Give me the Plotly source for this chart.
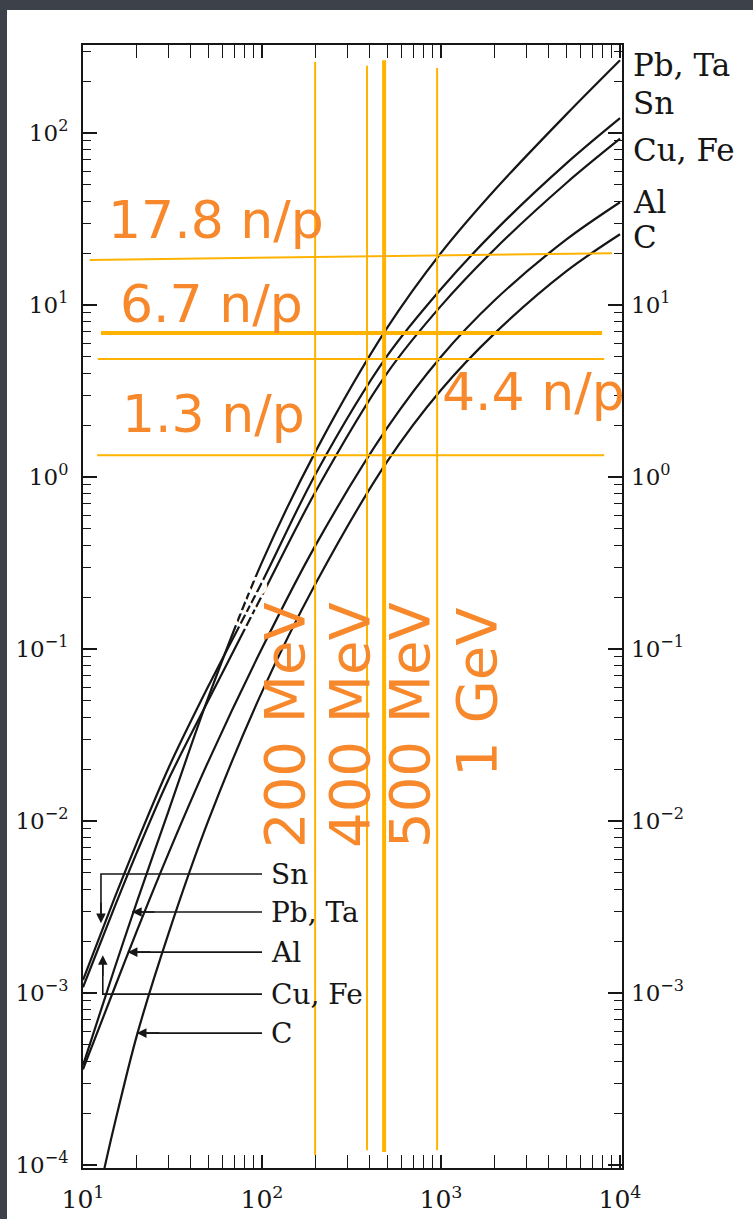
import plotly.graph_objects as go
import math

# ---------------- data ----------------
energy = [10, 15, 20, 30, 50, 100, 200, 500, 1000, 2000, 5000, 10000]
yield_pb_ta = [3.8e-4, 1.39e-3, 3.39e-3, 1.14e-2, 5.2e-2, 0.32, 1.42, 7.36, 20.1, 46.8, 128, 265]
yield_sn = [1.19e-3, 3.56e-3, 7.5e-3, 2.03e-2, 6.05e-2, 0.245, 1.05, 5.06, 12.4, 27.0, 66.4, 122]
yield_cu_fe = [1.08e-3, 3.16e-3, 6.58e-3, 1.74e-2, 5.0e-2, 0.205, 0.83, 4.02, 9.89, 21.2, 51.1, 92.7]
yield_al = [3.6e-4, 1.07e-3, 2.30e-3, 6.47e-3, 2.21e-2, 0.101, 0.405, 1.93, 5.01, 10.7, 24.0, 39.6]
energy_c = [12.8, 13.3, 15, 20, 30, 50, 100, 200, 500, 1000, 2000, 5000, 10000]
yield_c = [8.3e-5, 1e-4, 1.72e-4, 5.68e-4, 2.21e-3, 9.98e-3, 5.64e-2, 0.242, 1.23, 3.21, 6.87, 15.7, 25.8]

# orange annotation lines
hline_labels = ["17.8 n/p", "6.7 n/p", "4.4 n/p", "1.3 n/p"]
hline_e_start = [10.9, 12.6, 12.1, 12.0]
hline_e_end = [9020, 7940, 8160, 8160]
hline_y_start = [18.3, 6.87, 4.86, 1.34]
hline_y_end = [20.0, 6.87, 4.86, 1.34]
vline_labels = ["200 MeV", "400 MeV", "500 MeV", "1 GeV"]
vline_energy = [198, 386, 481, 951]
vline_top = [259, 246, 265, 239]
vline_bottom = [1.14e-4, 1.22e-4, 1.19e-4, 1.22e-4]

x_ticks = [1e1, 1e2, 1e3, 1e4]
x_tick_text = ["10<sup>1</sup>", "10<sup>2</sup>", "10<sup>3</sup>", "10<sup>4</sup>"]
y_ticks = [1e-4, 1e-3, 1e-2, 1e-1, 1e0, 1e1, 1e2]
y_tick_text = ["10<sup>−4</sup>", "10<sup>−3</sup>", "10<sup>−2</sup>", "10<sup>−1</sup>",
               "10<sup>0</sup>", "10<sup>1</sup>", "10<sup>2</sup>"]
y2_ticks = [1e-3, 1e-2, 1e-1, 1e0, 1e1]
y2_tick_text = ["10<sup>−3</sup>", "10<sup>−2</sup>", "10<sup>−1</sup>", "10<sup>0</sup>", "10<sup>1</sup>"]

# ---------------- geometry ----------------
W, H = 753, 1219
ML, MR, MT, MB = 83, 131, 45, 51
PW, PH = W - ML - MR, H - MT - MB
XR = [1.0, 4.011]
YR = [-4.017, 2.512]

def px(x):
    return (x - ML) / PW

def py(y):
    return (H - MB - y) / PH

BLACK = "#161616"
ORANGE_LINE = "#FFB300"
ORANGE_TEXT = "#F7892C"
FRAME = "#3d4149"
SERIF = "DejaVu Serif"
SANS = "DejaVu Sans"

fig = go.Figure()

curve_style = dict(mode="lines", line=dict(color=BLACK, width=2.2, shape="spline", smoothing=0.9),
                   hoverinfo="skip", showlegend=False)
fig.add_trace(go.Scatter(x=energy, y=yield_pb_ta, **curve_style))
fig.add_trace(go.Scatter(x=energy, y=yield_sn, **curve_style))
fig.add_trace(go.Scatter(x=energy, y=yield_cu_fe, **curve_style))
fig.add_trace(go.Scatter(x=energy, y=yield_al, **curve_style))
fig.add_trace(go.Scatter(x=energy_c, y=yield_c, **curve_style))

# leader lines for the lower-left labels
lead = dict(mode="lines", line=dict(color=BLACK, width=1.6), hoverinfo="skip", showlegend=False)
fig.add_trace(go.Scatter(x=[100, 12.6, 12.6], y=[4.92e-3, 4.92e-3, 2.7e-3], **lead))        # Sn
fig.add_trace(go.Scatter(x=[100, 18.8], y=[2.96e-3, 2.96e-3], **lead))                     # Pb, Ta
fig.add_trace(go.Scatter(x=[100, 17.8], y=[1.73e-3, 1.73e-3], **lead))                     # Al
fig.add_trace(go.Scatter(x=[100, 12.9, 12.9], y=[9.86e-4, 9.86e-4, 1.6e-3], **lead))        # Cu, Fe
fig.add_trace(go.Scatter(x=[100, 20.0], y=[5.85e-4, 5.85e-4], **lead))                     # C

# orange lines
for i in range(len(hline_labels)):
    fig.add_trace(go.Scatter(x=[hline_e_start[i], hline_e_end[i]], y=[hline_y_start[i], hline_y_end[i]],
                             mode="lines", line=dict(color=ORANGE_LINE, width=4 if i == 1 else 2),
                             hoverinfo="skip", showlegend=False))
for i in range(len(vline_labels)):
    fig.add_trace(go.Scatter(x=[vline_energy[i], vline_energy[i]], y=[vline_bottom[i], vline_top[i]],
                             mode="lines", line=dict(color=ORANGE_LINE, width=4 if i == 2 else 2),
                             hoverinfo="skip", showlegend=False))

# invisible trace for right axis
fig.add_trace(go.Scatter(x=[100], y=[1], yaxis="y2", mode="markers", marker=dict(opacity=0),
                         hoverinfo="skip", showlegend=False))

ann = []
# white ghost text over curves (drawn first, under the orange labels)
ann.append(dict(text="n/p", x=px(247), y=py(602), xref="paper", yref="paper", textangle=-68,
                xanchor="center", yanchor="middle",
                showarrow=False, font=dict(family=SANS, size=36, color="white")))
# orange labels
orange_h = [("17.8 n/p", 106, 220), ("6.7 n/p", 118, 304), ("1.3 n/p", 120, 414), ("4.4 n/p", 440, 392)]
for lab, lx, ly in orange_h:
    ann.append(dict(text=lab, x=px(lx), y=py(ly), xref="paper", yref="paper", xanchor="left",
                    yanchor="middle", showarrow=False,
                    font=dict(family=SANS, size=52, color=ORANGE_TEXT)))
vpos = [(285, 725), (350, 725), (410, 725), (476, 692)]
for lab, (vx, vy) in zip(vline_labels, vpos):
    ann.append(dict(text=lab, x=px(vx), y=py(vy), xref="paper", yref="paper", textangle=-90,
                    xanchor="center", yanchor="middle", showarrow=False,
                    font=dict(family=SANS, size=56, color=ORANGE_TEXT)))

# right-side element labels
for lab, yy in [("Pb, Ta", 65), ("Sn", 103), ("Cu, Fe", 150), ("Al", 202), ("C", 237)]:
    ann.append(dict(text=lab, x=px(631), y=py(yy), xref="paper", yref="paper", xanchor="left",
                    yanchor="middle", showarrow=False, font=dict(family=SERIF, size=31, color=BLACK)))
# lower-left element labels
for lab, yy in [("Sn", 874), ("Pb, Ta", 912), ("Al", 952), ("Cu, Fe", 994), ("C", 1033)]:
    ann.append(dict(text=lab, x=px(269), y=py(yy), xref="paper", yref="paper", xanchor="left",
                    yanchor="middle", showarrow=False, font=dict(family=SERIF, size=28, color=BLACK)))

# arrow heads
def arrow(e, yv, axp, ayp):
    return dict(x=math.log10(e), y=math.log10(yv), xref="x", yref="y", text="", showarrow=True,
                arrowhead=2, arrowsize=1.2, arrowwidth=1.6, arrowcolor=BLACK, ax=axp, ay=ayp)
ann.append(arrow(12.6, 2.55e-3, 0, -22))
ann.append(arrow(18.8, 2.96e-3, 24, 0))
ann.append(arrow(17.8, 1.73e-3, 24, 0))
ann.append(arrow(12.9, 1.66e-3, 0, 22))
ann.append(arrow(20.0, 5.85e-4, 24, 0))

# white page area on a dark frame (frame visible at top and left edges)
shapes = [
    dict(type="rect", xref="paper", yref="paper", x0=px(7), x1=px(W + 10), y0=py(H + 10), y1=py(10),
         fillcolor="white", line=dict(width=0), layer="below"),
]

minor_vals = [k * 10 ** n for n in range(-5, 5) for k in range(2, 10)]

fig.update_layout(
    width=W, height=H,
    margin=dict(l=ML, r=MR, t=MT, b=MB, autoexpand=False),
    paper_bgcolor=FRAME, plot_bgcolor="white",
    annotations=ann, shapes=shapes,
    xaxis=dict(type="log", range=XR, showgrid=False, zeroline=False,
               showline=True, linecolor=BLACK, linewidth=2, mirror="allticks",
               ticks="inside", ticklen=13, tickwidth=1.6, tickcolor=BLACK,
               tickvals=x_ticks, ticktext=x_tick_text, ticklabelstandoff=8,
               tickfont=dict(family=SERIF, size=25, color=BLACK),
               minor=dict(ticks="inside", ticklen=8, tickwidth=1.4, tickcolor=BLACK,
                          tickvals=minor_vals, showgrid=False)),
    yaxis=dict(type="log", range=YR, showgrid=False, zeroline=False,
               showline=True, linecolor=BLACK, linewidth=2, mirror="allticks",
               ticks="inside", ticklen=14, tickwidth=1.6, tickcolor=BLACK,
               tickvals=y_ticks, ticktext=y_tick_text, ticklabelstandoff=8,
               tickfont=dict(family=SERIF, size=23, color=BLACK),
               minor=dict(ticks="inside", ticklen=8, tickwidth=1.4, tickcolor=BLACK,
                          tickvals=minor_vals, showgrid=False)),
    yaxis2=dict(type="log", range=YR, overlaying="y", side="right", showgrid=False, zeroline=False,
                showline=False, ticks="", tickvals=y2_ticks, ticktext=y2_tick_text,
                ticklabelstandoff=8, tickfont=dict(family=SERIF, size=23, color=BLACK)),
)

fig.write_html("out.html", config={"displayModeBar": False},
               post_script="document.body.style.margin='0px';document.body.style.overflow='hidden';")
